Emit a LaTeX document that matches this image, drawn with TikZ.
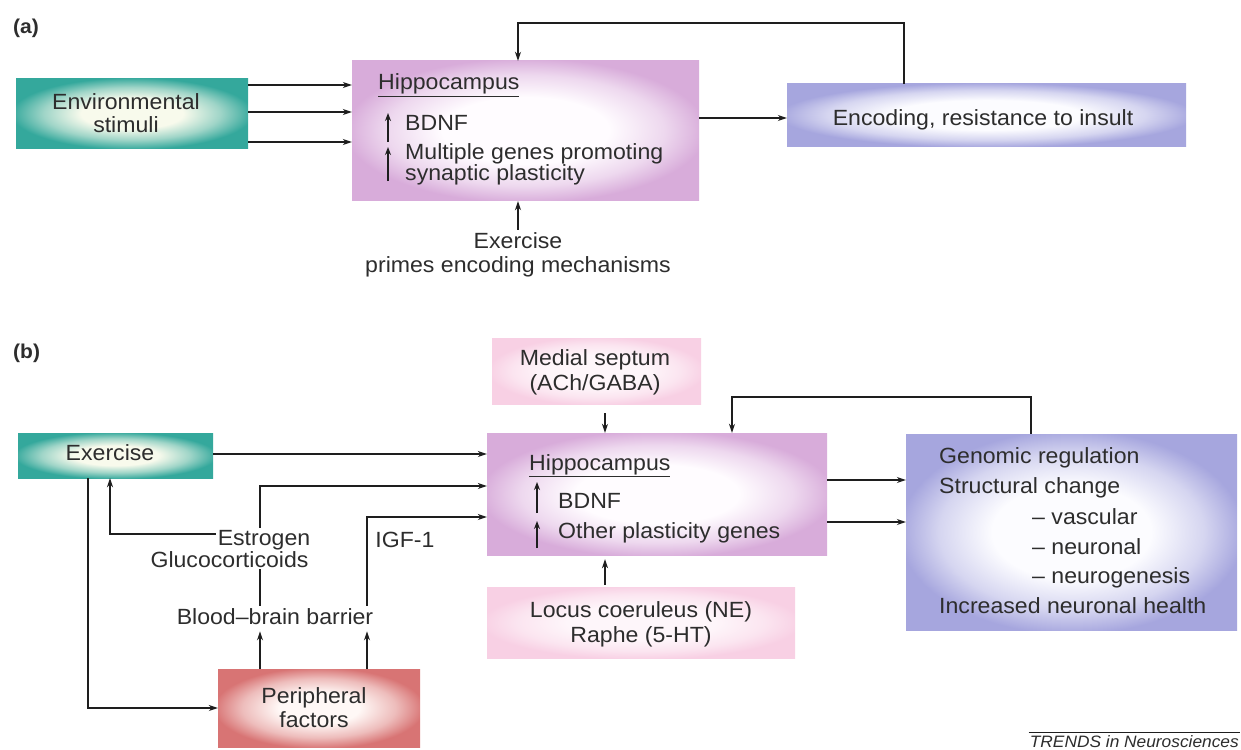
\documentclass[tikz,border=0pt]{standalone}
\usepackage{fontspec}
\setmainfont{Liberation Sans}[FakeStretch=1.05]
\usetikzlibrary{arrows.meta}
\definecolor{tealout}{RGB}{52,168,156}
\definecolor{tealin}{RGB}{248,250,236}
\definecolor{hipout}{RGB}{216,172,218}
\definecolor{hipin}{RGB}{255,252,255}
\definecolor{blueout}{RGB}{166,166,222}
\definecolor{bluein}{RGB}{252,252,255}
\definecolor{pinkout}{RGB}{248,208,228}
\definecolor{pinkin}{RGB}{254,246,250}
\definecolor{redout}{RGB}{216,116,116}
\definecolor{redin}{RGB}{255,248,246}
\colorlet{tealmid}{tealout!45!tealin}
\colorlet{hipmid}{hipout!45!hipin}
\colorlet{bluemid}{blueout!45!bluein}
\colorlet{pinkmid}{pinkout!45!pinkin}
\colorlet{redmid}{redout!45!redin}
\definecolor{txtc}{RGB}{45,45,45}
\definecolor{linec}{RGB}{30,30,30}
\pgfdeclareradialshading{shteal}{\pgfpoint{0bp}{0bp}}{color(0bp)=(tealin); color(11bp)=(tealin); color(19bp)=(tealmid); color(26bp)=(tealout); color(50bp)=(tealout)}
\pgfdeclareradialshading{shhip}{\pgfpoint{0bp}{0bp}}{color(0bp)=(hipin); color(12bp)=(hipin); color(20bp)=(hipmid); color(26bp)=(hipout); color(50bp)=(hipout)}
\pgfdeclareradialshading{shblue}{\pgfpoint{0bp}{0bp}}{color(0bp)=(bluein); color(12bp)=(bluein); color(20bp)=(bluemid); color(26bp)=(blueout); color(50bp)=(blueout)}
\pgfdeclareradialshading{shpink}{\pgfpoint{0bp}{0bp}}{color(0bp)=(pinkin); color(12bp)=(pinkin); color(20bp)=(pinkmid); color(26bp)=(pinkout); color(50bp)=(pinkout)}
\pgfdeclareradialshading{shred}{\pgfpoint{0bp}{0bp}}{color(0bp)=(redin); color(10bp)=(redin); color(19bp)=(redmid); color(26bp)=(redout); color(50bp)=(redout)}
\newcommand\fsmain{\fontsize{22}{25}\selectfont}
\tikzset{
  boxbase/.style={draw=none, inner sep=0pt, shade},
  tealbox/.style={boxbase, shading=shteal},
  hipbox/.style={boxbase, shading=shhip},
  bluebox/.style={boxbase, shading=shblue},
  pinkbox/.style={boxbase, shading=shpink},
  redbox/.style={boxbase, shading=shred},
  lbl/.style={inner sep=2pt, text=txtc, font=\fsmain},
  panel/.style={inner sep=0pt, text=txtc, font=\fontsize{20}{22}\selectfont\bfseries, anchor=base west},
  arr/.style={draw=linec, line width=1.2pt, -{Stealth[length=9pt,width=6pt]}},
  plain/.style={draw=linec, line width=1.2pt},
  uparr/.style={draw=linec, line width=1.6pt, -{Stealth[length=8pt,width=6pt]}}
}
\begin{document}
\begin{tikzpicture}[x=1pt,y=-1pt]
\fill[white] (0,0) rectangle (1241,749);
\useasboundingbox (0,0) rectangle (1241,749);

% ---------------- (a) ----------------
\node[panel] (pa) at (13,34) {(a)};
\node[tealbox, minimum width=232pt, minimum height=69pt] (env) at (132,113.5) {};
\node[hipbox, minimum width=347pt, minimum height=139pt] (hipA) at (525.5,130.5) {};
\node[bluebox, minimum width=399pt, minimum height=62pt] (enc) at (986.5,115) {};

\node[lbl, anchor=base] (envt1) at (126,110) {Environmental};
\node[lbl, anchor=base] (envt2) at (126,132) {stimuli};
\node[lbl, anchor=base] (enct) at (983,125) {Encoding, resistance to insult};

\node[lbl, anchor=base west, inner sep=0pt] (hipAt) at (378,90) {\underline{Hippocampus}};
\node[lbl, anchor=base west, inner sep=0pt] (hipAb) at (405,131) {BDNF};
\node[lbl, anchor=base west, inner sep=0pt] (hipAm1) at (405,159) {Multiple genes promoting};
\node[lbl, anchor=base west, inner sep=0pt] (hipAm2) at (405,180) {synaptic plasticity};
\coordinate (ua1s) at (388,142); \coordinate (ua1e) at (388,113);
\coordinate (ua2s) at (388,181); \coordinate (ua2e) at (388,147);
\draw[uparr] (ua1s) -- (ua1e);
\draw[uparr] (ua2s) -- (ua2e);

\node[lbl, anchor=base] (exa1) at (518,248) {Exercise};
\node[lbl, anchor=base] (exa2) at (518,272) {primes encoding mechanisms};

\coordinate (ra1) at (0,85);
\coordinate (ra2) at (0,112);
\coordinate (ra3) at (0,142);
\draw[arr] (env.east |- ra1) -- (hipA.west |- ra1);
\draw[arr] (env.east |- ra2) -- (hipA.west |- ra2);
\draw[arr] (env.east |- ra3) -- (hipA.west |- ra3);
\coordinate (rb) at (0,118);
\draw[arr] (hipA.east |- rb) -- (enc.west |- rb);
\coordinate (fax) at (904,23);
\coordinate (fat) at (518,23);
\draw[arr] (enc.north -| fax) -- (fax) -- (fat) -- (hipA.north -| fat);
\draw[arr, shorten >=1pt] (exa1.north) -- (hipA.south -| exa1.north);

% ---------------- (b) ----------------
\node[panel] (pb) at (13,358) {(b)};
\node[tealbox, minimum width=195pt, minimum height=45pt] (exb) at (115.5,455.5) {};
\node[hipbox, minimum width=340pt, minimum height=122pt] (hipB) at (657,494) {};
\node[pinkbox, minimum width=209pt, minimum height=66pt] (med) at (596.5,371) {};
\node[pinkbox, minimum width=308pt, minimum height=71pt] (loc) at (641,622.5) {};
\node[bluebox, minimum width=331pt, minimum height=196pt] (gen) at (1071.5,532) {};
\node[redbox, minimum width=202pt, minimum height=78pt] (per) at (319,708) {};

\node[lbl, anchor=base] (exbt) at (110,460) {Exercise};
\node[lbl, anchor=base] (medt1) at (595,365) {Medial septum};
\node[lbl, anchor=base] (medt2) at (595,390) {(ACh/GABA)};
\node[lbl, anchor=base] (loct1) at (641,617) {Locus coeruleus (NE)};
\node[lbl, anchor=base] (loct2) at (641,642) {Raphe (5-HT)};
\node[lbl, anchor=base] (pert1) at (314,703) {Peripheral};
\node[lbl, anchor=base] (pert2) at (314,727) {factors};

\node[lbl, anchor=base west, inner sep=0pt] (hipBt) at (529,470) {\underline{Hippocampus}};
\node[lbl, anchor=base west, inner sep=0pt] (hipBb) at (558,508) {BDNF};
\node[lbl, anchor=base west, inner sep=0pt] (hipBo) at (558,538) {Other plasticity genes};
\coordinate (ub1s) at (537,513); \coordinate (ub1e) at (537,482);
\coordinate (ub2s) at (537,548); \coordinate (ub2e) at (537,521);
\draw[uparr] (ub1s) -- (ub1e);
\draw[uparr] (ub2s) -- (ub2e);

\node[lbl, anchor=base west, inner sep=0pt] (g1) at (939,463) {Genomic regulation};
\node[lbl, anchor=base west, inner sep=0pt] (g2) at (939,493) {Structural change};
\node[lbl, anchor=base west, inner sep=0pt] (g3) at (1032,524) {-- vascular};
\node[lbl, anchor=base west, inner sep=0pt] (g4) at (1032,554) {-- neuronal};
\node[lbl, anchor=base west, inner sep=0pt] (g5) at (1032,583) {-- neurogenesis};
\node[lbl, anchor=base west, inner sep=0pt] (g6) at (939,613) {Increased neuronal health};

\node[lbl, anchor=base] (est) at (264,545) {Estrogen};
\node[lbl, anchor=base] (glu) at (229.5,567) {Glucocorticoids};
\node[lbl, anchor=base] (bbb) at (275,624) {Blood--brain barrier};
\node[lbl, anchor=base] (igf) at (405,547) {IGF-1};

\coordinate (r454) at (0,454);
\draw[arr] (exb.east |- r454) -- (hipB.west |- r454);
\coordinate (c260) at (260,486);
\draw[arr] (est.north -| c260) -- (c260) -- (hipB.west |- c260);
\draw[plain] (glu.south -| c260) -- (bbb.north -| c260);
\coordinate (c367) at (367,517);
\draw[arr] (bbb.north -| c367) -- (c367) -- (hipB.west |- c367);
\coordinate (c110) at (110,534);
\draw[arr] (est.west |- c110) -- (c110) -- (exb.south -| c110);
\coordinate (c88) at (88,708);
\draw[arr] (exb.south -| c88) -- (c88) -- (per.west |- c88);
\draw[arr, shorten >=5pt] (per.north -| c260) -- (bbb.south -| c260);
\draw[arr, shorten >=5pt] (per.north -| c367) -- (bbb.south -| c367);

\coordinate (c605) at (605,0);
\draw[arr, shorten <=9pt] (med.south -| c605) -- (hipB.north -| c605);
\draw[arr, shorten <=2pt, shorten >=4pt] (loc.north -| c605) -- (hipB.south -| c605);

\coordinate (r480) at (0,480);
\coordinate (r522) at (0,522);
\draw[arr] (hipB.east |- r480) -- (gen.west |- r480);
\draw[arr] (hipB.east |- r522) -- (gen.west |- r522);

\coordinate (fb1) at (1031,397);
\coordinate (fb2) at (732,397);
\draw[arr] (gen.north -| fb1) -- (fb1) -- (fb2) -- (hipB.north -| fb2);

\node[inner sep=1pt, text=txtc, font=\fontsize{16.5}{18}\selectfont\itshape, anchor=base east] (trends) at (1240,747) {TRENDS in Neurosciences};
\draw[draw=linec, line width=0.8pt] ([yshift=1pt]trends.north west) -- ([yshift=1pt]trends.north east);
\end{tikzpicture}
\end{document}
